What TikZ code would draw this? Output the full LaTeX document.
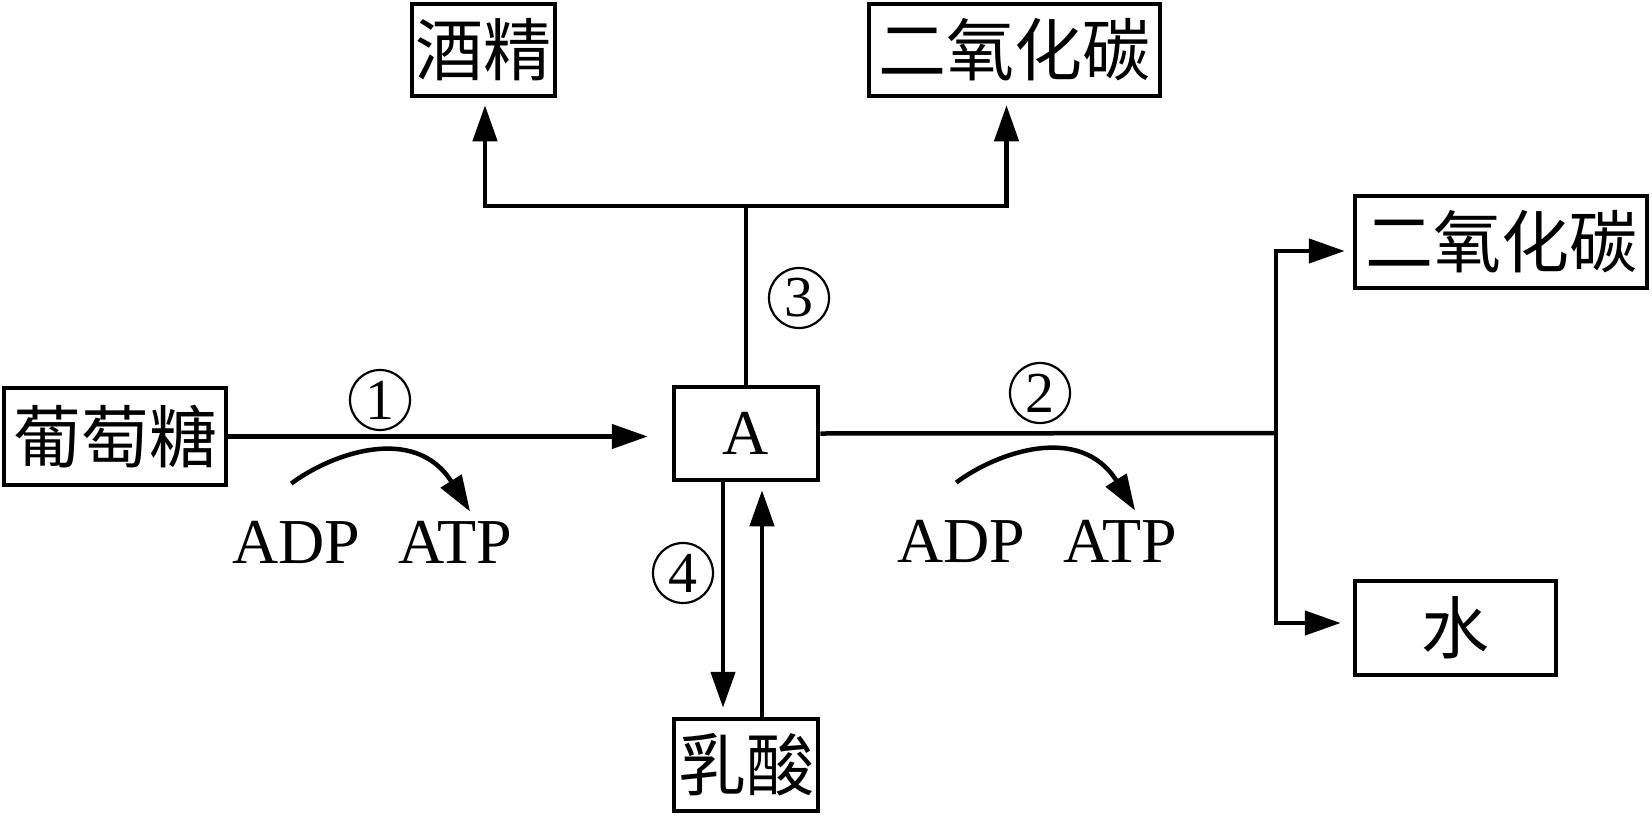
\documentclass[tikz,border=0pt]{standalone}
\usepackage{fontspec}
\setmainfont{Liberation Serif}
\newfontfamily\cjkfont{Noto Sans CJK SC}
\usetikzlibrary{arrows.meta}

\begin{document}
\begin{tikzpicture}[x=1pt, y=-1pt,
	kasten/.style={draw, line width=4.5pt, inner sep=0pt, font=\cjkfont\fontsize{68}{70}\selectfont},
	linie/.style={line width=4.5pt},
	pfeil/.style={line width=4.5pt, -{Triangle[length=36pt,width=24pt]}},
	nummer/.style={circle, draw, line width=2.2pt, minimum size=60pt, inner sep=0pt, font=\fontsize{58}{60}\selectfont},
	beschr/.style={inner sep=0pt, anchor=base west, font=\fontsize{64}{66}\selectfont}]
			\useasboundingbox (0,0) rectangle (1652,814);

			% Kästen
			\node[kasten, minimum width=222pt, minimum height=97pt] (glc) at (115,436.5) {葡萄糖};
			\node[kasten, minimum width=144pt, minimum height=93pt, font=\fontsize{64}{66}\selectfont] (A) at (746,433.5) {A};
			\node[kasten, minimum width=144pt, minimum height=92pt] (milch) at (746,765) {乳酸};
			\node[kasten, minimum width=143pt, minimum height=92pt] (alk) at (483.5,50) {酒精};
			\node[kasten, minimum width=291pt, minimum height=92pt] (co2a) at (1014.5,50) {二氧化碳};
			\node[kasten, minimum width=292pt, minimum height=92pt] (co2b) at (1501,242) {二氧化碳};
			\node[kasten, minimum width=201pt, minimum height=94pt] (wasser) at (1455.5,628) {水};

			% Verzweigungspunkte
			\coordinate (k3) at (746,206);
			\coordinate (k2) at (1276,433);

			% Glukose -> A
			\draw[pfeil, shorten >=24pt] (glc.east) -- (glc.east -| A.west);

			% Weg 3 (alkoholische Gärung)
			\draw[linie] (A.north) -- (k3);
			\draw[pfeil, shorten >=7pt] (k3) -| ([xshift=1.5pt]alk.south);
			\draw[pfeil, shorten >=7pt] (k3) -| ([xshift=-8pt]co2a.south);

			% Weg 2 (aerob)
			\draw[linie] (A.east) -- (k2);
			\draw[pfeil, shorten >=8pt] (k2) |- ([yshift=-9pt]co2b.west);
			\draw[pfeil, shorten >=12pt] (k2) |- ([yshift=5pt]wasser.west);

			% Weg 4 (Milchsäure)
			\draw[pfeil, shorten >=9pt] ([xshift=-23pt]A.south) -- ([xshift=-23pt]milch.north);
			\draw[pfeil, shorten >=8pt] ([xshift=16pt]milch.north) -- ([xshift=16pt]A.south);

			% Nummern
			\node[nummer] (n1) at (380,400) {1};
			\node[nummer] (n2) at (1040,393) {2};
			\node[nummer] (n3) at (799,298) {3};
			\node[nummer] (n4) at (683,573) {4};

			% ADP -> ATP
			\node[beschr] (adp1) at (232,563) {ADP};
			\node[beschr] (atp1) at (398,563) {ATP};
			\node[beschr] (adp2) at (897,562) {ADP};
			\node[beschr] (atp2) at (1063,562) {ATP};
			\draw[pfeil] ([xshift=-5pt,yshift=37pt]adp1.north) .. controls +(40,-30) and +(-55,-88) .. ([xshift=15pt,yshift=9pt]atp1.north);
			\draw[pfeil] ([xshift=-5pt,yshift=37pt]adp2.north) .. controls +(40,-30) and +(-55,-88) .. ([xshift=15pt,yshift=9pt]atp2.north);

		\end{tikzpicture}
\end{document}
